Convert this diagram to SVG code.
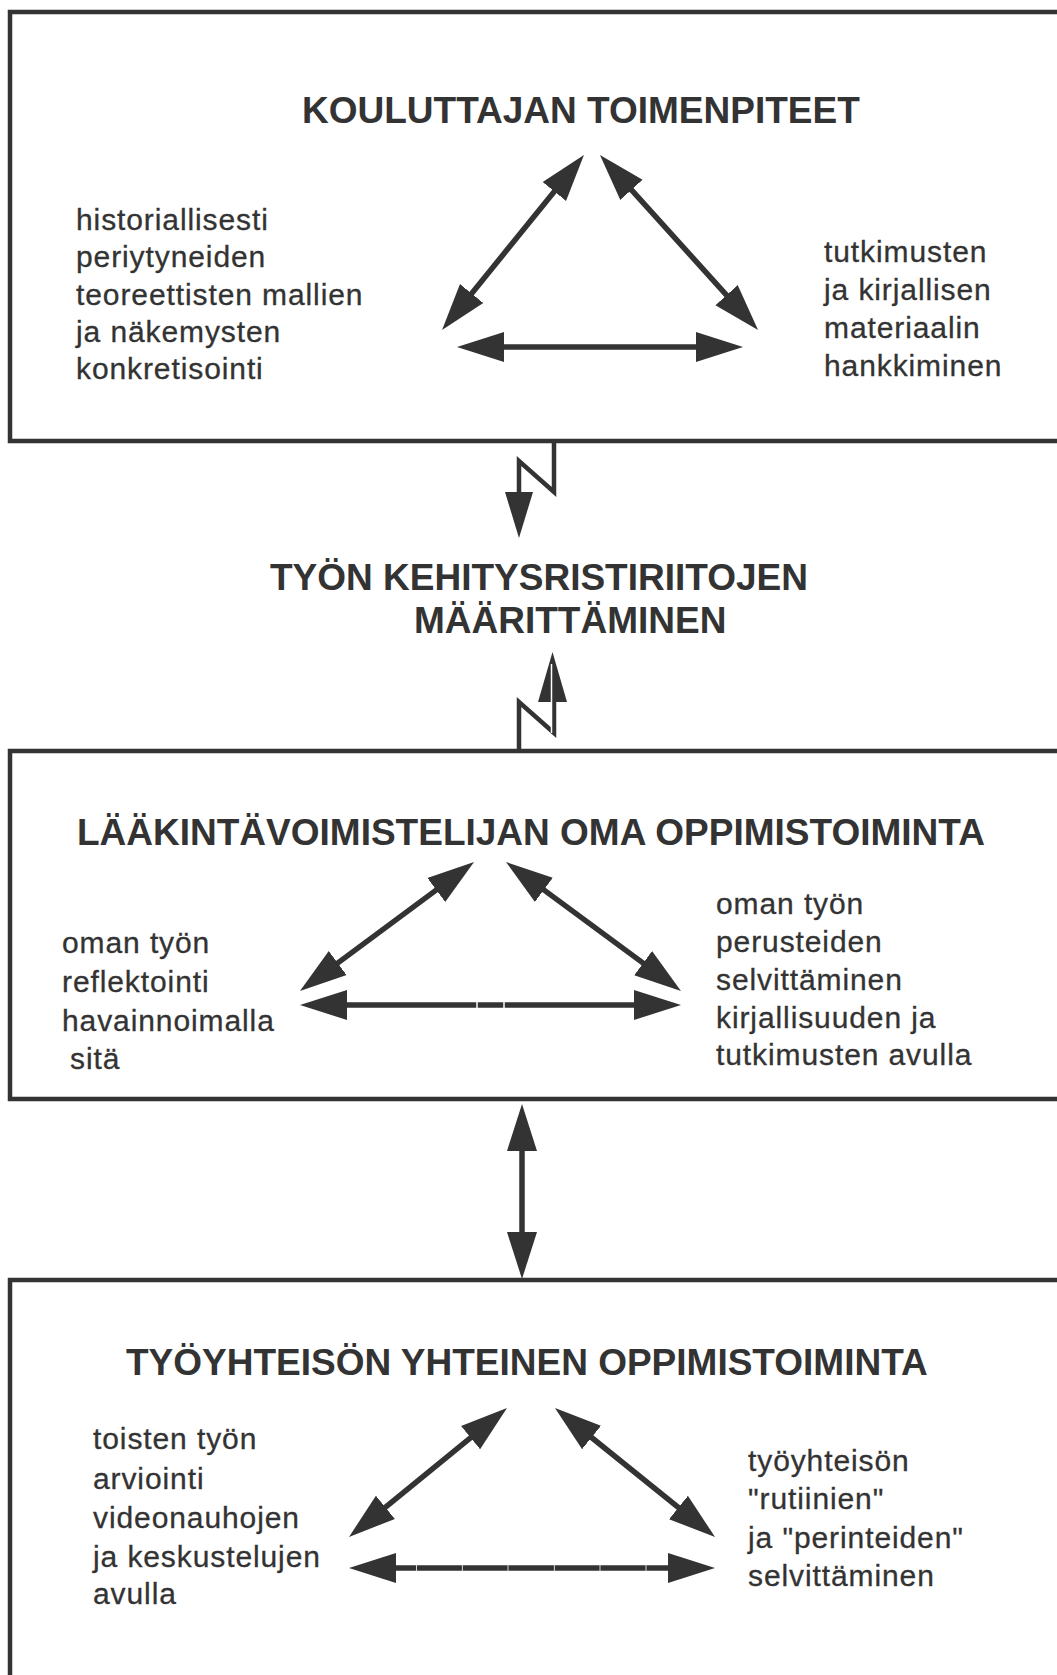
<svg xmlns="http://www.w3.org/2000/svg" width="1057" height="1675" viewBox="0 0 1057 1675">
  <style>
    .frame { fill: none; stroke: #333; stroke-width: 4.5; }
    .title { font-family: "Liberation Sans", Arial, Helvetica, sans-serif; font-weight: bold; font-size: 37px; fill: #333; }
    .body { font-family: "Liberation Sans", Arial, Helvetica, sans-serif; font-size: 30px; letter-spacing: 0.9px; fill: #333; stroke: #333; stroke-width: 0.3px; }
    .shaft { fill: none; stroke: #333; stroke-width: 5.5; marker-start: url(#head); marker-end: url(#head); }
    .link { fill: none; stroke: #333; stroke-width: 4.5; stroke-linejoin: miter; }
    .tick { stroke: #fff; stroke-width: 1.5; }
    .fine { stroke: #fff; stroke-width: 0.8; }
  </style>
  <defs>
    <!-- solid triangular arrowhead; the line ends 12px short of the tip -->
    <marker id="head" viewBox="0 -16 48 32" markerUnits="userSpaceOnUse" markerWidth="48" markerHeight="32" refX="35" refY="0" orient="auto-start-reverse">
      <path d="M0,-15 L47,0 L0,15 Z" fill="#333"/>
    </marker>
  </defs>
  <rect width="1057" height="1675" fill="#fff"/>

  <!-- upper panel: trainer's actions -->
  <g id="kouluttajan-toimenpiteet">
    <path class="frame" d="M1057,12 H10 V441 H1057"/>
    <text class="title" x="302" y="123">KOULUTTAJAN TOIMENPITEET</text>
    <text class="body">
      <tspan x="76" y="230">historiallisesti</tspan>
      <tspan x="76" y="267">periytyneiden</tspan>
      <tspan x="76" y="305">teoreettisten mallien</tspan>
      <tspan x="76" y="342">ja näkemysten</tspan>
      <tspan x="76" y="379">konkretisointi</tspan>
    </text>
    <text class="body">
      <tspan x="824" y="261.5">tutkimusten</tspan>
      <tspan x="824" y="299.5">ja kirjallisen</tspan>
      <tspan x="824" y="337.5">materiaalin</tspan>
      <tspan x="824" y="376">hankkiminen</tspan>
    </text>
    <line class="shaft" x1="576.4" y1="164.3" x2="449.6" y2="320.7"/>
    <line class="shaft" x1="608" y1="163.9" x2="750" y2="321.1"/>
    <line class="shaft" x1="469" y1="347" x2="731" y2="347"/>
  </g>

  <!-- middle heading between the panels -->
  <g id="kehitysristiriidat">
    <text class="title" x="270" y="590">TYÖN KEHITYSRISTIRIITOJEN</text>
    <text class="title" x="414" y="633">MÄÄRITTÄMINEN</text>
  </g>

  <!-- second panel: own learning activity -->
  <g id="oma-oppimistoiminta">
    <path class="frame" d="M1057,751 H10 V1099 H1057"/>
    <text class="title" x="77" y="845">LÄÄKINTÄVOIMISTELIJAN OMA OPPIMISTOIMINTA</text>
    <text class="body">
      <tspan x="62" y="953">oman työn</tspan>
      <tspan x="62" y="992">reflektointi</tspan>
      <tspan x="62" y="1031">havainnoimalla</tspan>
      <tspan x="70" y="1069">sitä</tspan>
    </text>
    <text class="body">
      <tspan x="716" y="914">oman työn</tspan>
      <tspan x="716" y="952">perusteiden</tspan>
      <tspan x="716" y="990">selvittäminen</tspan>
      <tspan x="716" y="1027.5">kirjallisuuden ja</tspan>
      <tspan x="716" y="1065">tutkimusten avulla</tspan>
    </text>
    <line class="shaft" x1="464.4" y1="869.1" x2="309.6" y2="983.9"/>
    <line class="shaft" x1="515.7" y1="869.1" x2="671.3" y2="983.9"/>
    <line class="shaft" x1="312" y1="1005" x2="669" y2="1005"/>
    <line class="tick" x1="477" y1="1000" x2="477" y2="1010"/>
    <line class="tick" x1="504" y1="1000" x2="504" y2="1010"/>
  </g>

  <!-- lower panel: shared learning of the work community -->
  <g id="yhteinen-oppimistoiminta">
    <path class="frame" d="M1057,1280 H10 V1675"/>
    <text class="title" x="126" y="1375">TYÖYHTEISÖN YHTEINEN OPPIMISTOIMINTA</text>
    <text class="body">
      <tspan x="93" y="1449">toisten työn</tspan>
      <tspan x="93" y="1489">arviointi</tspan>
      <tspan x="93" y="1528">videonauhojen</tspan>
      <tspan x="93" y="1567">ja keskustelujen</tspan>
      <tspan x="93" y="1604">avulla</tspan>
    </text>
    <text class="body">
      <tspan x="748" y="1471">työyhteisön</tspan>
      <tspan x="748" y="1509">"rutiinien"</tspan>
      <tspan x="748" y="1548">ja "perinteiden"</tspan>
      <tspan x="748" y="1586">selvittäminen</tspan>
    </text>
    <line class="shaft" x1="497.7" y1="1415.6" x2="358.3" y2="1529.4"/>
    <line class="shaft" x1="564.3" y1="1415.5" x2="705.7" y2="1529.5"/>
    <line class="shaft" x1="361" y1="1568" x2="703" y2="1568"/>
    <g class="fine">
      <line x1="416.5" y1="1564" x2="416.5" y2="1572"/>
      <line x1="462.4" y1="1564" x2="462.4" y2="1572"/>
      <line x1="508" y1="1564" x2="508" y2="1572"/>
      <line x1="554.4" y1="1564" x2="554.4" y2="1572"/>
      <line x1="600" y1="1564" x2="600" y2="1572"/>
      <line x1="646" y1="1564" x2="646" y2="1572"/>
    </g>
  </g>

  <!-- connectors between the panels and the heading -->
  <g id="connectors">
    <!-- zig-zag down from the upper panel -->
    <path class="link" d="M554,443 V492 L519,461 V494"/>
    <polygon points="505,492 533,492 519,538" fill="#333"/>
    <!-- zig-zag up from the second panel -->
    <path class="link" d="M519,749 V702 L554,733 V700"/>
    <polygon points="538,702 567,702 552.5,652" fill="#333"/>
    <line x1="551.5" y1="664" x2="551.5" y2="733" stroke="#fff" stroke-width="1.5"/>
    <!-- two-way link between the second and lower panels -->
    <line class="shaft" x1="522" y1="1116" x2="522" y2="1267"/>
  </g>
</svg>
